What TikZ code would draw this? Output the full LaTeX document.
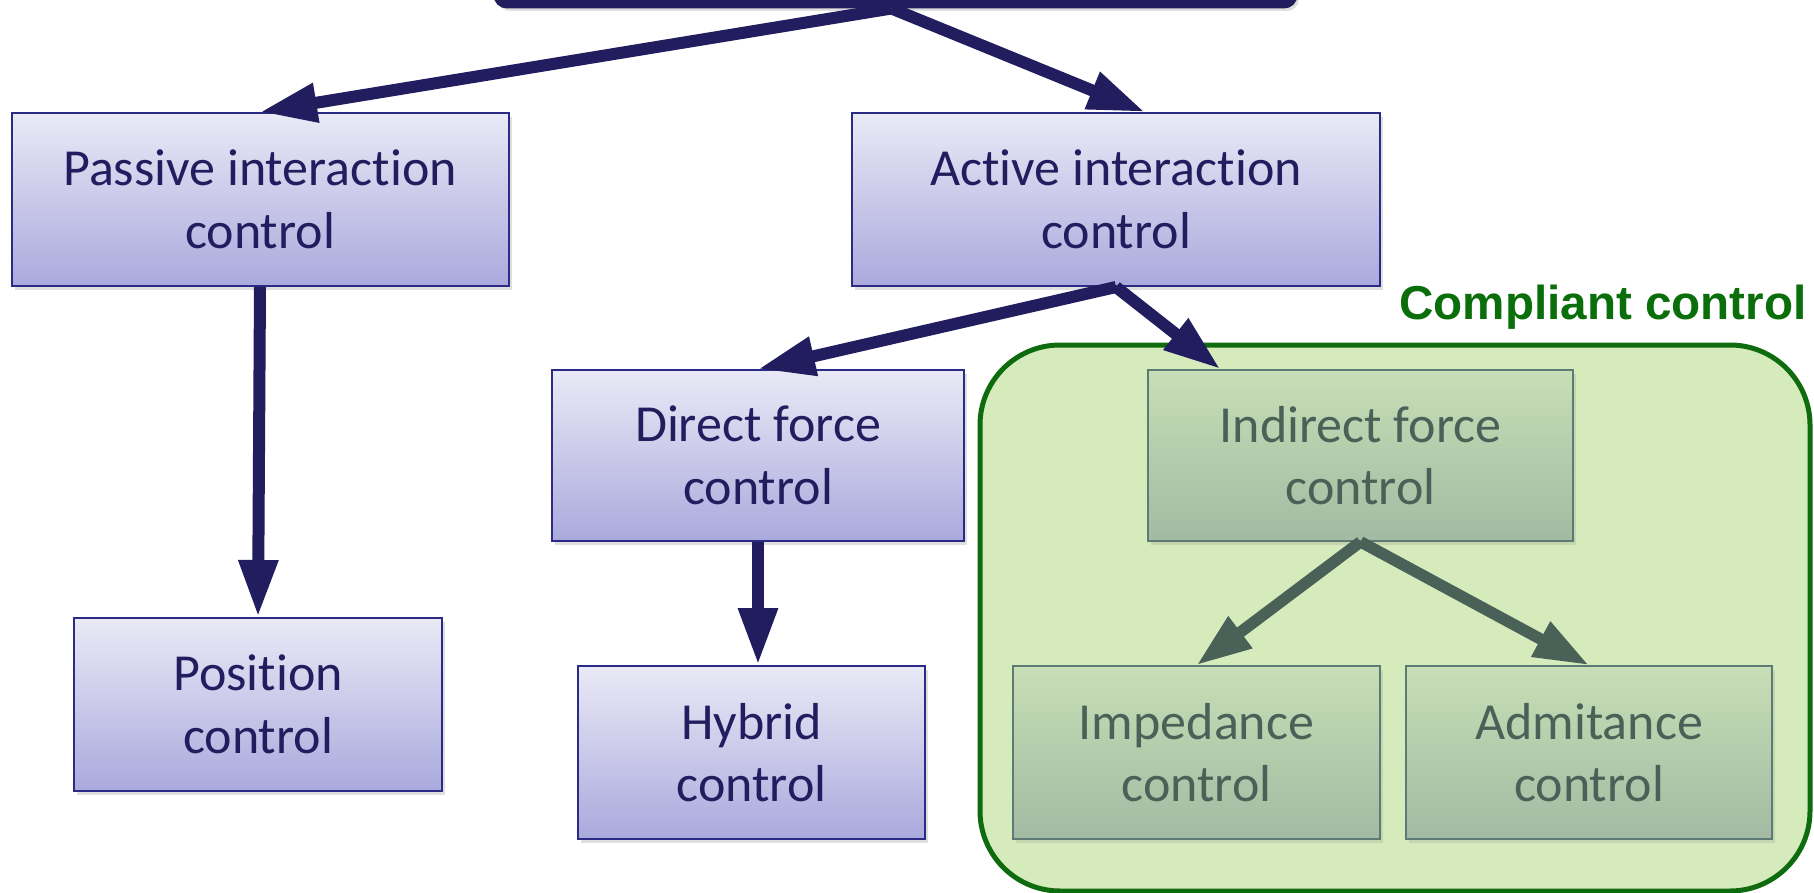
\documentclass[tikz,border=0pt]{standalone}
\usepackage{fontspec}
\setmainfont{Carlito}[Ligatures=NoCommon]
\newfontfamily\labelfont{Liberation Sans}
\usetikzlibrary{arrows.meta,shadows,calc}
\definecolor{navy}{HTML}{211D5E}
\definecolor{navyborder}{HTML}{2B2A85}
\definecolor{bluetop}{HTML}{EAE9F6}
\definecolor{bluebot}{HTML}{AAA9DD}
\definecolor{greentop}{HTML}{C7DEB6}
\definecolor{greenbot}{HTML}{A2BAA2}
\definecolor{greentext}{HTML}{4A6158}
\definecolor{greenborder}{HTML}{5E7A74}
\definecolor{regionfill}{HTML}{D5EBBC}
\definecolor{regionborder}{HTML}{0E6B0E}
\definecolor{labelgreen}{HTML}{0A6E0A}
\tikzset{
  bluebox/.style={draw=navyborder, line width=2pt, top color=bluetop, bottom color=bluebot,
    text=navy, align=center, font=\fontsize{52}{62.5}\selectfont, inner sep=0pt,
    drop shadow={shadow xshift=3pt, shadow yshift=-4pt, opacity=0.25}},
  greenbox/.style={draw=greenborder, line width=1.6pt, top color=greentop, bottom color=greenbot,
    text=greentext, align=center, font=\fontsize{52}{62.5}\selectfont, inner sep=0pt,
    drop shadow={shadow xshift=3pt, shadow yshift=-4pt, opacity=0.2}},
  navyarrow/.style={draw=navy, line width=12pt, -{Triangle[length=57pt, width=37pt]}},
  greenarrow/.style={draw=greentext, line width=11.5pt, -{Triangle[length=55pt, width=37pt]}},
}
\begin{document}
\begin{tikzpicture}[x=1pt,y=-1pt]
\useasboundingbox (0,0) rectangle (1814,893);
% compliant region
\node[draw=regionborder, line width=5pt, fill=regionfill, rounded corners=80pt,
  minimum width=830pt, minimum height=546pt, inner sep=0pt] (region) at (1395,618) {};
\node[text=labelgreen, font=\labelfont\bfseries\fontsize{47.6}{57}\selectfont, inner sep=0pt]
  (complabel) at (1603,307) {Compliant control};
% root box (cut off at top)
\node[draw=navy, fill=navy, line width=3pt, rounded corners=12pt, minimum width=801pt,
  minimum height=67pt, inner sep=0pt,
  drop shadow={shadow xshift=3pt, shadow yshift=-4pt, opacity=0.25}] (root) at (895.5,-26.5) {};
% boxes
\node[bluebox, minimum width=497pt, minimum height=173pt] (passive) at (260,199.5) {Passive interaction\\control};
\node[bluebox, minimum width=528pt, minimum height=173pt] (active) at (1116,199.5) {Active interaction\\control};
\node[bluebox, minimum width=412pt, minimum height=171pt] (direct) at (758,455.5) {Direct force\\control};
\node[bluebox, minimum width=368pt, minimum height=173pt] (position) at (258,704.5) {Position\\control};
\node[bluebox, minimum width=347pt, minimum height=173pt] (hybrid) at (751.5,752.5) {Hybrid\\control};
\node[greenbox, minimum width=425pt, minimum height=171pt] (indirect) at (1360.5,455.5) {Indirect force\\control};
\node[greenbox, minimum width=367pt, minimum height=173pt] (impedance) at (1196.5,752.5) {Impedance\\control};
\node[greenbox, minimum width=366pt, minimum height=173pt] (admitance) at (1589,752.5) {Admitance\\control};
% arrows
\draw[navyarrow] ([xshift=-4pt]root.south) -- (passive.north);
\draw[navyarrow] ([xshift=-4pt]root.south) -- ([xshift=29pt]active.north);
\draw[navyarrow] (passive.south) -- (position.north);
\draw[navyarrow] (active.south) -- (direct.north);
\draw[navyarrow] (active.south) -- ([xshift=-140pt]indirect.north);
\draw[navyarrow] (direct.south) -- (direct.south |- hybrid.north);
\draw[greenarrow] (indirect.south) -- (impedance.north);
\draw[greenarrow] (indirect.south) -- (admitance.north);
\end{tikzpicture}
\end{document}
